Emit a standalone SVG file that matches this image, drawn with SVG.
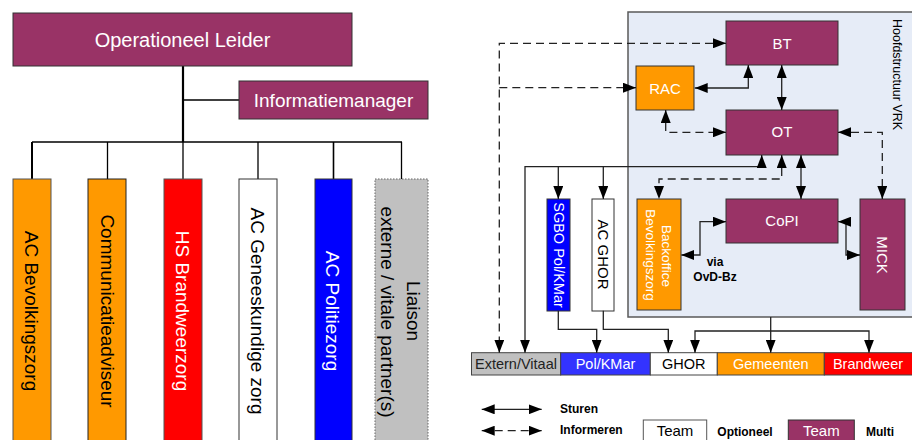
<svg xmlns="http://www.w3.org/2000/svg" width="912" height="440" viewBox="0 0 912 440">
<defs>
<marker id="ah" viewBox="0 0 13 10" refX="13" refY="5" markerWidth="13" markerHeight="10" markerUnits="userSpaceOnUse" orient="auto-start-reverse"><path d="M0,0 L13,5 L0,10 z" fill="#000"/></marker>
<style>
text{font-family:"Liberation Sans",Arial,sans-serif}
.mag{fill:#993366;stroke:#333;stroke-width:1}
.org{fill:#ff9900;stroke:#333;stroke-width:1}
.wl{fill:#fff}
.c{text-anchor:middle}
.b{font-weight:bold;font-size:12px;fill:#000}
.ln{fill:none;stroke:#222;stroke-width:1.3}
.ds{fill:none;stroke:#222;stroke-width:1.3;stroke-dasharray:8 5}
.tr{fill:none;stroke:#000;stroke-width:1.3}
</style>
</defs>
<rect width="912" height="440" fill="#fff"/>

<!-- Left org chart connectors -->
<g id="tree-connectors" class="tr">
<path d="M183,66 V142" stroke-width="2.2"/>
<path d="M183,100 H239"/>
<path d="M32,142 H402"/>
<path d="M32,142 V179" stroke-width="2"/>
<path d="M107.5,142 V179"/>
<path d="M183,142 V179"/>
<path d="M258,142 V179"/>
<path d="M333.5,142 V179" stroke-width="1.6"/>
<path d="M401.5,142 V179"/>
</g>

<g id="operationeel-leider">
<rect class="mag" x="13" y="13" width="339" height="53"/>
<text class="c wl" x="182.5" y="47" font-size="20">Operationeel Leider</text>
</g>
<g id="informatiemanager">
<rect class="mag" x="239" y="81" width="189" height="38"/>
<text class="c wl" x="333.5" y="107" font-size="19">Informatiemanager</text>
</g>

<g id="ac-bevolkingszorg">
<rect x="13" y="179" width="38" height="280" fill="#ff9900" stroke="#555"/>
<text class="c" transform="translate(25,311) rotate(90)" font-size="19" fill="#000">AC Bevolkingszorg</text>
</g>
<g id="communicatieadviseur">
<rect x="88" y="179" width="38" height="280" fill="#ff9900" stroke="#222"/>
<text class="c" transform="translate(100.5,311) rotate(90)" font-size="19" fill="#000">Communicatieadviseur</text>
</g>
<g id="hs-brandweerzorg">
<rect x="164" y="179" width="38" height="280" fill="#ff0000" stroke="#555"/>
<text class="c" transform="translate(175.5,311) rotate(90)" font-size="19" fill="#fff">HS Brandweerzorg</text>
</g>
<g id="ac-geneeskundige-zorg">
<rect x="239" y="179" width="38" height="280" fill="#fff" stroke="#333"/>
<text class="c" transform="translate(250.5,311) rotate(90)" font-size="19" fill="#000">AC Geneeskundige zorg</text>
</g>
<g id="ac-politiezorg">
<rect x="315" y="179" width="37" height="280" fill="#0000ff" stroke="#333"/>
<text class="c" transform="translate(326,311) rotate(90)" font-size="19" fill="#fff">AC Politiezorg</text>
</g>
<g id="liaison">
<rect x="375" y="179" width="53" height="280" fill="#c0c0c0" stroke="#666" stroke-dasharray="1.5 1.5"/>
<text class="c" transform="translate(407,311) rotate(90)" font-size="19" fill="#000">Liaison</text>
<text class="c" transform="translate(381,312) rotate(90)" font-size="19" fill="#000">externe / vitale partner(s)</text>
</g>

<!-- Right side -->
<g id="hoofdstructuur-vrk">
<rect x="628" y="12" width="290" height="305" fill="#e6ecf7" stroke="#595959" stroke-width="1.5"/>
<text transform="translate(893,19) rotate(90)" font-size="12.5" fill="#000">Hoofdstructuur VRK</text>
</g>

<g id="bt">
<rect class="mag" x="726" y="21" width="112" height="44"/>
<text class="c wl" x="782" y="48.5" font-size="15">BT</text>
</g>
<g id="rac">
<rect class="org" x="636" y="66" width="58" height="44"/>
<text class="c wl" x="665" y="93.5" font-size="15">RAC</text>
</g>
<g id="ot">
<rect class="mag" x="726" y="110" width="112" height="45"/>
<text class="c wl" x="782" y="137" font-size="15">OT</text>
</g>
<g id="copi">
<rect class="mag" x="726" y="199" width="112" height="44"/>
<text class="c wl" x="782" y="226" font-size="15">CoPI</text>
</g>
<g id="mick">
<rect class="mag" x="860" y="199" width="45" height="111"/>
<text class="c wl" transform="translate(877,255) rotate(90)" font-size="15">MICK</text>
</g>
<g id="backoffice">
<rect class="org" x="637" y="199" width="44" height="111"/>
<text class="c wl" transform="translate(662,256) rotate(90)" font-size="13.5">Backoffice</text>
<text class="c wl" transform="translate(646,255) rotate(90)" font-size="13.5">Bevolkingszorg</text>
</g>
<g id="sgbo">
<rect x="547" y="199" width="23" height="112" fill="#0000ff" stroke="#333"/>
<text class="c wl" transform="translate(554,255) rotate(90)" font-size="14.5">SGBO Pol/KMar</text>
</g>
<g id="ac-ghor">
<rect x="592" y="199" width="22" height="112" fill="#fff" stroke="#333"/>
<text class="c" transform="translate(597.5,254.5) rotate(90)" font-size="15" fill="#000">AC GHOR</text>
</g>

<g id="label-via">
<text class="c b" x="715" y="266" font-size="12">via</text>
<text class="c b" x="715" y="280.5" font-size="12">OvD-Bz</text>
</g>

<g id="bottom-bar" font-size="14.5">
<g id="extern-vitaal"><rect x="471.5" y="352.7" width="89.2" height="22.3" fill="#c0c0c0" stroke="#444"/><text class="c" x="516" y="368.5" fill="#222">Extern/Vitaal</text></g>
<g id="pol-kmar"><rect x="560.7" y="352.7" width="89.6" height="22.3" fill="#3333ff" stroke="#444"/><text class="c wl" x="605.5" y="368.5">Pol/KMar</text></g>
<g id="ghor"><rect x="650.3" y="352.7" width="67" height="22.3" fill="#fff" stroke="#444"/><text class="c" x="683.8" y="368.5" fill="#000">GHOR</text></g>
<g id="gemeenten"><rect x="717.3" y="352.7" width="107" height="22.3" fill="#ff9900" stroke="#444"/><text class="c wl" x="770.8" y="368.5">Gemeenten</text></g>
<g id="brandweer"><rect x="824.3" y="352.7" width="90" height="22.3" fill="#ff0000" stroke="#444"/><text class="c wl" x="868" y="368.5">Brandweer</text></g>
</g>

<g id="connectors">
<path class="ds" d="M726,43.3 H499.3 V352.7" marker-start="url(#ah)" marker-end="url(#ah)"/>
<path class="ds" d="M499.3,87.7 H636" marker-end="url(#ah)"/>
<path class="ln" d="M694.7,88 H748.3 V65" marker-start="url(#ah)" marker-end="url(#ah)"/>
<path class="ln" d="M781.7,65 V110" marker-start="url(#ah)" marker-end="url(#ah)"/>
<path class="ds" d="M665.7,110 V132.3 H726" marker-start="url(#ah)" marker-end="url(#ah)"/>
<path class="ds" d="M838,132.3 H882.3 V199" marker-start="url(#ah)" marker-end="url(#ah)"/>
<path class="ln" d="M761.7,155 V166.7 H525 V352.7" stroke-width="1.6" marker-start="url(#ah)" marker-end="url(#ah)"/>
<path class="ln" d="M558.3,166.7 V199" marker-end="url(#ah)"/>
<path class="ln" d="M603.3,166.7 V199" marker-end="url(#ah)"/>
<path class="ds" d="M781.7,155 V179 H659 V199" marker-start="url(#ah)" marker-end="url(#ah)"/>
<path class="ln" d="M801,155 V199" marker-start="url(#ah)" marker-end="url(#ah)"/>
<path class="ln" d="M681.3,255 H700 V221.7 H726" marker-start="url(#ah)" marker-end="url(#ah)"/>
<path class="ln" d="M838,221.7 H846 V255 H860" marker-start="url(#ah)" marker-end="url(#ah)"/>
<path class="ln" d="M558.3,310.7 V329.3 H596.7 V352.7" marker-end="url(#ah)"/>
<path class="ln" d="M603.3,310.7 V329.3 H668.3 V352.7" marker-end="url(#ah)"/>
<path class="ln" d="M770.7,317 V352.7" marker-end="url(#ah)"/>
<path class="ln" d="M695,352.7 V331 H869 V352.7" marker-start="url(#ah)" marker-end="url(#ah)"/>
</g>

<g id="legend">
<path class="ln" d="M481.7,409.3 H541.7" marker-start="url(#ah)" marker-end="url(#ah)"/>
<path class="ds" d="M481.7,430.7 H541.7" marker-start="url(#ah)" marker-end="url(#ah)"/>
<text class="b" x="560" y="413.3">Sturen</text>
<text class="b" x="560" y="433.5">Informeren</text>
<rect x="643.3" y="420" width="63.4" height="30" fill="#fff" stroke="#555"/>
<text class="c" x="675" y="436" font-size="15" fill="#000">Team</text>
<text class="b" x="717.3" y="436">Optioneel</text>
<rect class="mag" x="788.3" y="420" width="66" height="30"/>
<text class="c wl" x="821.3" y="436" font-size="15">Team</text>
<text class="b" x="866" y="436">Multi</text>
</g>
</svg>
